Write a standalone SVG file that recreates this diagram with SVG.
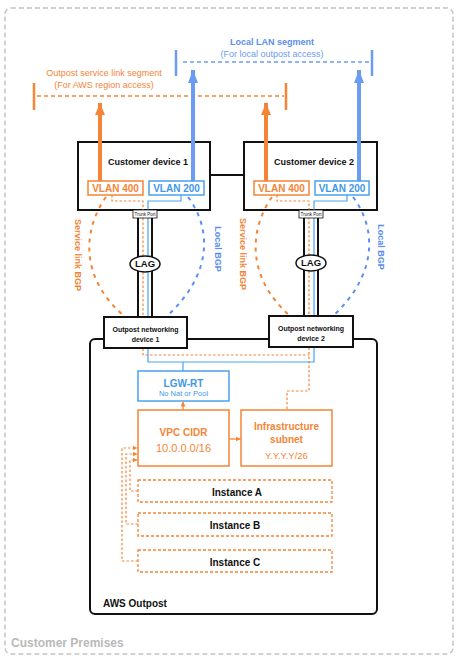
<svg xmlns="http://www.w3.org/2000/svg" width="459" height="663" viewBox="0 0 459 663">
<style>
text{font-family:"Liberation Sans",Arial,sans-serif}
.b{font-weight:bold}
.or{fill:#f58536}
.bl{fill:#3f97e8}
.blk{fill:#111}
.box{fill:#fff;stroke:#111;stroke-width:2}
.obox{fill:#fff;stroke:#f58536;stroke-width:1.5}
.bbox{fill:#fff;stroke:#4aa3ee;stroke-width:1.5}
.ibox{fill:#fff;stroke:#f58536;stroke-width:1.3;stroke-dasharray:3 2}
.odot{fill:none;stroke:#f58536;stroke-width:1.2;stroke-dasharray:2.5 2}
.bthin{fill:none;stroke:#4aa3ee;stroke-width:1.2}
.oarc{fill:none;stroke:#f58536;stroke-width:2;stroke-dasharray:4 5}
.barc{fill:none;stroke:#5b8fef;stroke-width:2;stroke-dasharray:4 5}
</style>
<defs>
<marker id="ahO" markerUnits="userSpaceOnUse" markerWidth="12" markerHeight="14" refX="12" refY="5" orient="auto"><path d="M0,0 L12,5 L0,10 Z" fill="#f58536"/></marker>
<marker id="ahB" markerUnits="userSpaceOnUse" markerWidth="14" markerHeight="12" refX="13" refY="5" orient="auto"><path d="M0,0 L13,5 L0,10 Z" fill="#6b9cf2"/></marker>
<marker id="sO" markerUnits="userSpaceOnUse" markerWidth="6" markerHeight="6" refX="5" refY="2.5" orient="auto"><path d="M0,0 L5,2.5 L0,5 Z" fill="#f58536"/></marker>
</defs>

<g id="customer-premises">
<rect x="5" y="8" width="448" height="646" rx="6" fill="none" stroke="#c4c4c4" stroke-width="1.5" stroke-dasharray="5 3"/>
<text x="11" y="647" font-size="12" class="b" fill="#b9b9b9">Customer Premises</text>
</g>

<g id="aws-outpost">
<rect x="90" y="339" width="287" height="275" rx="5" fill="none" stroke="#111" stroke-width="2"/>
<text x="103" y="606.5" font-size="10" class="b blk">AWS Outpost</text>
</g>

<g id="local-lan-segment">
<line x1="176" y1="50" x2="176" y2="76" stroke="#6b9cf2" stroke-width="2.5"/>
<line x1="372" y1="50" x2="372" y2="76" stroke="#6b9cf2" stroke-width="2.5"/>
<line x1="183" y1="62" x2="370" y2="62" stroke="#6b9cf2" stroke-width="1.5" stroke-dasharray="4 3"/>
<text x="272" y="45" font-size="9" class="b" fill="#5a90ec" text-anchor="middle">Local LAN segment</text>
<text x="272" y="57" font-size="9" fill="#6b9cf2" text-anchor="middle">(For local outpost access)</text>
</g>

<g id="service-link-segment">
<line x1="34" y1="83" x2="34" y2="110" stroke="#f58536" stroke-width="2.5"/>
<line x1="286" y1="83" x2="286" y2="110" stroke="#f58536" stroke-width="2.5"/>
<line x1="37" y1="96" x2="284" y2="96" stroke="#f58536" stroke-width="1.5" stroke-dasharray="4 3"/>
<text x="104" y="76" font-size="9" class="or" text-anchor="middle">Outpost service link segment</text>
<text x="104" y="88" font-size="9" class="or" text-anchor="middle">(For AWS region access)</text>
</g>

<g id="customer-device-1">
<rect x="78" y="142" width="132" height="68" class="box"/>
<text x="148" y="165" font-size="9" class="b blk" text-anchor="middle">Customer device 1</text>
</g>
<g id="customer-device-2">
<rect x="244" y="142" width="133" height="68" class="box"/>
<text x="314" y="165" font-size="9" class="b blk" text-anchor="middle">Customer device 2</text>
</g>

<g id="connectors">
<line x1="210" y1="175" x2="244" y2="175" stroke="#111" stroke-width="2"/>
<!-- uplink arrows -->
<line x1="100" y1="181" x2="100" y2="103" stroke="#f58536" stroke-width="4" marker-end="url(#ahO)"/>
<line x1="193" y1="181" x2="193" y2="70" stroke="#6b9cf2" stroke-width="4" marker-end="url(#ahB)"/>
<line x1="266" y1="181" x2="266" y2="103" stroke="#f58536" stroke-width="4" marker-end="url(#ahO)"/>
<line x1="359" y1="181" x2="359" y2="70" stroke="#6b9cf2" stroke-width="4" marker-end="url(#ahB)"/>
<!-- inner VLAN paths -->
<path d="M112,195 V201 H143 V355 H309" class="odot"/>
<path d="M277,195 V201 H309 V391 H287 V410" class="odot"/>
<path d="M181,195 V201 H148 V362 H314 V201 H347 V195" class="bthin"/>
<line x1="183" y1="362" x2="183" y2="371" class="bthin"/>
<!-- LAG links -->
<line x1="138" y1="218" x2="138" y2="317" stroke="#111" stroke-width="2"/>
<line x1="152" y1="218" x2="152" y2="317" stroke="#111" stroke-width="2"/>
<line x1="304" y1="218" x2="304" y2="316" stroke="#111" stroke-width="2"/>
<line x1="318" y1="218" x2="318" y2="316" stroke="#111" stroke-width="2"/>
<!-- outpost networking link -->
<line x1="187" y1="339" x2="269" y2="339" stroke="#111" stroke-width="2"/>
<!-- BGP arcs -->
<path d="M106,197 C84,228 78,276 124,316" class="oarc"/>
<path d="M188,197 C210,226 215,272 167,316" class="barc"/>
<path d="M272,197 C250,228 245,276 290,316" class="oarc"/>
<path d="M353,197 C375,226 380,272 333,316" class="barc"/>
<!-- internal arrows -->
<line x1="183" y1="410" x2="183" y2="401.5" stroke="#f58536" stroke-width="1.3" marker-end="url(#sO)"/>
<line x1="229" y1="439" x2="240.5" y2="439" stroke="#f58536" stroke-width="1.3" marker-end="url(#sO)"/>
<path d="M138,561 H122 V448 H137.5" class="odot" marker-end="url(#sO)"/>
<path d="M138,524 H126 V454 H137.5" class="odot" marker-end="url(#sO)"/>
<path d="M138,491 H130 V460 H137.5" class="odot" marker-end="url(#sO)"/>
</g>

<g id="bgp-labels">
<text transform="translate(74.5,255) rotate(90)" font-size="9" class="b or" text-anchor="middle">Service link BGP</text>
<text transform="translate(214.5,249) rotate(90)" font-size="9" class="b" fill="#5b8fef" text-anchor="middle">Local BGP</text>
<text transform="translate(240,254) rotate(90)" font-size="9" class="b or" text-anchor="middle">Service link BGP</text>
<text transform="translate(378,247) rotate(90)" font-size="9" class="b" fill="#5b8fef" text-anchor="middle">Local BGP</text>
</g>

<g id="vlan400-1">
<rect x="88" y="181" width="55" height="14" class="obox"/>
<text x="115.5" y="191.5" font-size="10" class="b or" text-anchor="middle">VLAN 400</text>
</g>
<g id="vlan200-1">
<rect x="149" y="181" width="55" height="14" class="bbox"/>
<text x="176.5" y="191.5" font-size="10" class="b bl" text-anchor="middle">VLAN 200</text>
</g>
<g id="vlan400-2">
<rect x="254" y="181" width="55" height="14" class="obox"/>
<text x="281.5" y="191.5" font-size="10" class="b or" text-anchor="middle">VLAN 400</text>
</g>
<g id="vlan200-2">
<rect x="315" y="181" width="54" height="14" class="bbox"/>
<text x="342" y="191.5" font-size="10" class="b bl" text-anchor="middle">VLAN 200</text>
</g>

<g id="trunk-port-1">
<rect x="133" y="210" width="24" height="8" fill="#fff" stroke="#111" stroke-width="0.8"/>
<text x="145" y="215.6" font-size="4.5" class="blk" text-anchor="middle">Trunk Port</text>
</g>
<g id="trunk-port-2">
<rect x="299" y="210" width="24" height="8" fill="#fff" stroke="#111" stroke-width="0.8"/>
<text x="311" y="215.6" font-size="4.5" class="blk" text-anchor="middle">Trunk Port</text>
</g>

<g id="lag-1">
<ellipse cx="145" cy="264" rx="15" ry="8" fill="#fff" stroke="#111" stroke-width="1.5"/>
<text x="145" y="267.3" font-size="9.5" class="b blk" text-anchor="middle">LAG</text>
</g>
<g id="lag-2">
<ellipse cx="311" cy="263" rx="15" ry="8" fill="#fff" stroke="#111" stroke-width="1.5"/>
<text x="311" y="266.3" font-size="9.5" class="b blk" text-anchor="middle">LAG</text>
</g>

<g id="outpost-networking-device-1">
<rect x="104" y="317" width="83" height="31" class="box"/>
<text x="145.5" y="331.5" font-size="7" class="b blk" text-anchor="middle">Outpost networking</text>
<text x="145.5" y="341.5" font-size="7" class="b blk" text-anchor="middle">device 1</text>
</g>
<g id="outpost-networking-device-2">
<rect x="269" y="316" width="84" height="31" class="box"/>
<text x="311" y="330.5" font-size="7" class="b blk" text-anchor="middle">Outpost networking</text>
<text x="311" y="340.5" font-size="7" class="b blk" text-anchor="middle">device 2</text>
</g>

<g id="lgw-rt">
<rect x="138" y="371" width="91" height="30" class="bbox"/>
<text x="183.5" y="386.5" font-size="10" class="b bl" text-anchor="middle">LGW-RT</text>
<text x="183.5" y="395.5" font-size="7.5" class="bl" text-anchor="middle">No Nat or Pool</text>
</g>

<g id="vpc-cidr">
<rect x="138" y="410" width="91" height="56" class="obox"/>
<text x="183.5" y="435.5" font-size="10" class="b or" text-anchor="middle">VPC CIDR</text>
<text x="183.5" y="452" font-size="11" class="or" text-anchor="middle">10.0.0.0/16</text>
</g>

<g id="infrastructure-subnet">
<rect x="241" y="410" width="91" height="56" class="obox"/>
<text x="286.5" y="429.5" font-size="10" class="b or" text-anchor="middle">Infrastructure</text>
<text x="286.5" y="442.5" font-size="10" class="b or" text-anchor="middle">subnet</text>
<text x="286.5" y="458.5" font-size="9.5" class="or" text-anchor="middle">Y.Y.Y.Y/26</text>
</g>

<g id="instance-a">
<rect x="138" y="480" width="194" height="22" class="ibox"/>
<text x="237" y="495.5" font-size="10" class="b blk" text-anchor="middle">Instance A</text>
</g>
<g id="instance-b">
<rect x="138" y="513" width="194" height="23" class="ibox"/>
<text x="235" y="528.5" font-size="10" class="b blk" text-anchor="middle">Instance B</text>
</g>
<g id="instance-c">
<rect x="138" y="550" width="194" height="22" class="ibox"/>
<text x="235" y="565.5" font-size="10" class="b blk" text-anchor="middle">Instance C</text>
</g>
</svg>
